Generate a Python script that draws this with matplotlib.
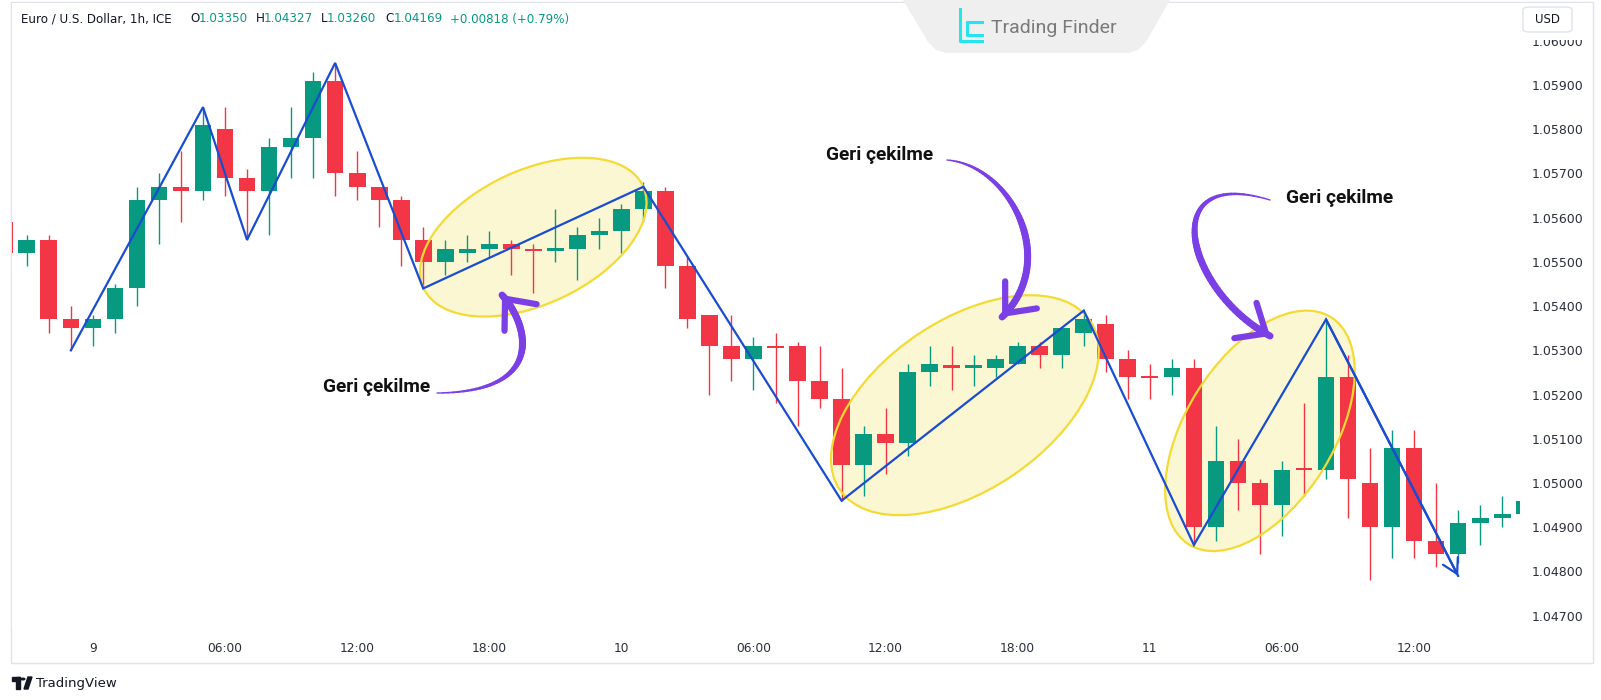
import matplotlib
matplotlib.use("Agg")
import matplotlib.pyplot as plt
import matplotlib.transforms as mtransforms
from matplotlib.patches import Ellipse, Rectangle, FancyBboxPatch, Polygon, Circle
from matplotlib.collections import LineCollection
import numpy as np

W, H = 1601, 700

# hourly candles, hour 0 = day 9 00:00
hours = list(range(-4, 66))
opens = [1.0559, 1.0552, 1.0555, 1.0537, 1.0535, 1.0537, 1.0544, 1.0564, 1.0567, 1.0566,
         1.0580, 1.0569, 1.0566, 1.0576, 1.0578, 1.0591, 1.0570, 1.0567, 1.0564, 1.0555,
         1.0550, 1.0552, 1.0553, 1.0554, 1.05530, 1.05525, 1.0553, 1.0556, 1.0557, 1.0562,
         1.0566, 1.0549, 1.0538, 1.0531, 1.0528, 1.0531, 1.0531, 1.0523, 1.0519, 1.0504,
         1.0511, 1.0509, 1.0525, 1.05266, 1.05261, 1.0526, 1.0527, 1.0531, 1.0529, 1.0534,
         1.0536, 1.0528, 1.05243, 1.0524, 1.0526, 1.0490, 1.0505, 1.0500, 1.0495, 1.05033,
         1.0503, 1.0524, 1.0500, 1.0490, 1.0508, 1.0487, 1.0484, 1.0491, 1.0492, 1.0493]
highs = [1.0560, 1.0556, 1.0556, 1.0540, 1.0538, 1.0545, 1.0567, 1.0570, 1.0575, 1.0585,
         1.0585, 1.0571, 1.0578, 1.0585, 1.0593, 1.0595, 1.0575, 1.0567, 1.0565, 1.0558,
         1.0555, 1.0556, 1.0557, 1.0555, 1.0554, 1.0562, 1.0558, 1.0560, 1.0563, 1.0568,
         1.0567, 1.0551, 1.0538, 1.0538, 1.0533, 1.0534, 1.0532, 1.0531, 1.0526, 1.0513,
         1.0517, 1.0527, 1.0531, 1.0531, 1.0529, 1.0529, 1.0532, 1.0532, 1.0535, 1.0539,
         1.0538, 1.0530, 1.0527, 1.0528, 1.0528, 1.0513, 1.0510, 1.0501, 1.0505, 1.0518,
         1.0537, 1.0529, 1.0508, 1.0512, 1.0512, 1.0500, 1.0494, 1.0495, 1.0497, 1.0497]
lows = [1.0550, 1.0549, 1.0534, 1.0530, 1.0531, 1.0534, 1.0540, 1.0554, 1.0559, 1.0564,
        1.0565, 1.0555, 1.0556, 1.0569, 1.0569, 1.0565, 1.0564, 1.0558, 1.0549, 1.0544,
        1.0547, 1.0550, 1.0551, 1.0547, 1.0543, 1.0550, 1.0546, 1.0553, 1.0552, 1.0559,
        1.0544, 1.0535, 1.0520, 1.0523, 1.0521, 1.0518, 1.0513, 1.0517, 1.0496, 1.0497,
        1.0502, 1.0506, 1.0522, 1.0521, 1.0522, 1.0524, 1.0527, 1.0526, 1.0526, 1.0531,
        1.0525, 1.0519, 1.0519, 1.0520, 1.0486, 1.0487, 1.0494, 1.0484, 1.0488, 1.0497,
        1.0501, 1.0492, 1.0478, 1.0483, 1.0483, 1.0481, 1.0482, 1.0486, 1.0490, 1.0492]
closes = [1.0552, 1.0555, 1.0537, 1.0535, 1.0537, 1.0544, 1.0564, 1.0567, 1.0566, 1.0581,
          1.0569, 1.0566, 1.0576, 1.0578, 1.0591, 1.0570, 1.0567, 1.0564, 1.0555, 1.0550,
          1.0553, 1.0553, 1.0554, 1.0553, 1.05525, 1.05532, 1.0556, 1.0557, 1.0562, 1.0566,
          1.0549, 1.0537, 1.0531, 1.0528, 1.0531, 1.05305, 1.0523, 1.0519, 1.0504, 1.0511,
          1.0509, 1.0525, 1.0527, 1.05261, 1.05268, 1.0528, 1.0531, 1.0529, 1.0535, 1.0537,
          1.0528, 1.0524, 1.05238, 1.0526, 1.0490, 1.0505, 1.0500, 1.0495, 1.0503, 1.05030,
          1.0524, 1.0501, 1.0490, 1.0508, 1.0487, 1.0484, 1.0491, 1.0492, 1.0493, 1.0496]

# zigzag swing points (hour, price)
zz_hours = [-1, 5, 7, 11, 15, 25, 34, 45, 50, 56, 62]
zz_prices = [1.0530, 1.0585, 1.0555, 1.0595, 1.0544, 1.0567, 1.0496, 1.0539, 1.0486, 1.0537, 1.0479]

tick_hours = [0, 6, 12, 18, 24, 30, 36, 42, 48, 54, 60]
tick_labels = ["9", "06:00", "12:00", "18:00", "10", "06:00", "12:00", "18:00", "11", "06:00", "12:00"]
price_ticks = [1.047, 1.048, 1.049, 1.050, 1.051, 1.052, 1.053, 1.054, 1.055, 1.056,
               1.057, 1.058, 1.059, 1.060]

# pullback zones: center hour, center price, semi axes (px), angle
zone_hours = [20.0, 39.6, 53.0]
zone_prices = [1.05556, 1.05176, 1.05118]
zone_axes = [(121, 67), (151, 85), (134, 74)]
zone_angles = [25, 34, 58]

label_text = "Geri çekilme"
label_hours = [12.9, 35.74, 56.63]
label_prices = [1.052171, 1.057417, 1.056445]
arrow_paths = [
    [(15.63, 1.052035), (20.76, 1.052058), (19.71, 1.053641), (18.58, 1.054251)],
    [(38.79, 1.057304), (41.65, 1.057191), (43.92, 1.055043), (41.29, 1.053754)],
    [(53.46, 1.056400), (48.23, 1.057191), (49.60, 1.054364), (53.46, 1.053324)],
]

GREEN = "#089981"
RED = "#f23645"
BLUE = "#1a4cd2"
PURPLE = "#7b3fe6"
TXT = "#131722"
UI_FONT = "DejaVu Sans"


def fx(x):
    return x / W


def fy(y):
    return 1 - y / H


fig = plt.figure(figsize=(W / 100, H / 100), dpi=100)
fig.patch.set_facecolor("white")
ax = fig.add_axes([fx(12), fy(627), (1520 - 12) / W, (627 - 3) / H])
ax.set_xlim(-3.674, 64.81)
ax.set_ylim(1.046744, 1.060855)
ax.set_facecolor("white")
for s in ax.spines.values():
    s.set_visible(False)

# candles
o = np.array(opens)
c = np.array(closes)
hh = np.array(hours)
up = c >= o
cols = np.where(up, GREEN, RED)
ax.vlines(hh, lows, highs, colors=cols, lw=1.0, zorder=2)
bottoms = np.minimum(o, c)
heights = np.maximum(np.abs(c - o), 0.00005)
ax.bar(hh, heights, bottom=bottoms, width=0.76, color=cols, zorder=2.5, linewidth=0)

# zigzag
ax.plot(zz_hours, zz_prices, color=BLUE, lw=1.6, zorder=4, solid_joinstyle="miter")
ax.annotate("", xy=(zz_hours[-1], zz_prices[-1]), xytext=(zz_hours[-2], zz_prices[-2]),
            arrowprops=dict(arrowstyle="->,head_length=0.7,head_width=0.4", color=BLUE,
                            lw=1.6, shrinkA=0, shrinkB=0, mutation_scale=15), zorder=4)

# pullback ellipses (sized in pixels)
for zh, zp, (a, b), ang in zip(zone_hours, zone_prices, zone_axes, zone_angles):
    cx, cy = ax.transData.transform((zh, zp))
    ax.add_patch(Ellipse((cx, cy), 2 * a, 2 * b, angle=ang, transform=mtransforms.IdentityTransform(),
                         facecolor="#fcf7d3", edgecolor="none", zorder=1))
    ax.add_patch(Ellipse((cx, cy), 2 * a, 2 * b, angle=ang, transform=mtransforms.IdentityTransform(),
                         facecolor="none", edgecolor="#f4da35", lw=1.6, zorder=3))

# curved purple arrows with labels
t = np.linspace(0, 1, 60)
for (lh, lp), pts in zip(zip(label_hours, label_prices), arrow_paths):
    ax.text(lh, lp, label_text, ha="center", va="center", fontsize=13.8, fontweight="bold",
            family="Roboto", color="#111111", zorder=6)
    p = np.array(pts)
    bez = ((1 - t) ** 3)[:, None] * p[0] + (3 * (1 - t) ** 2 * t)[:, None] * p[1] \
        + (3 * (1 - t) * t ** 2)[:, None] * p[2] + (t ** 3)[:, None] * p[3]
    segs = np.stack([bez[:-1], bez[1:]], axis=1)
    widths = 1.0 + 4.0 * np.minimum(1, t[:-1] * 1.8)
    ax.add_collection(LineCollection(segs, linewidths=widths, colors=PURPLE, capstyle="round", zorder=5))
    ax.annotate("", xy=tuple(bez[-1]), xytext=tuple(bez[-5]),
                arrowprops=dict(arrowstyle="->,head_length=0.7,head_width=0.6", color=PURPLE,
                                lw=4.5, shrinkA=0, shrinkB=0, mutation_scale=25,
                                capstyle="round", joinstyle="round"), zorder=5)

# axes ticks
ax.yaxis.tick_right()
ax.set_yticks(price_ticks, [f"{v:.5f}" for v in price_ticks])
ax.set_xticks(tick_hours, tick_labels)
ax.tick_params(axis="y", length=0, pad=8.6, labelsize=9, labelcolor="#2a2e39")
ax.tick_params(axis="x", length=0, pad=11, labelsize=8.8, labelcolor="#2a2e39")
for lab in ax.get_yticklabels() + ax.get_xticklabels():
    lab.set_family(UI_FONT)

# panel border
fig.add_artist(Rectangle((fx(11), fy(663)), (1593 - 11) / W, (663 - 2) / H, transform=fig.transFigure,
                         facecolor="none", edgecolor="#e0e3eb", lw=1.0, zorder=0))

# USD button (covers top of the 1.06000 label)
fig.add_artist(Rectangle((fx(1521), fy(40)), 70 / W, 37 / H, transform=fig.transFigure,
                         facecolor="white", edgecolor="none", zorder=9))
fig.add_artist(FancyBboxPatch((fx(1523), fy(32)), 49 / W, 25 / H, boxstyle="round,pad=0,rounding_size=0.004",
                              transform=fig.transFigure, facecolor="white", edgecolor="#e0e3eb", lw=1, zorder=10))
fig.text(fx(1547.5), fy(19.5), "USD", ha="center", va="center", fontsize=8.5, color=TXT,
         family=UI_FONT, zorder=11)

# header
header = [("Euro / U.S. Dollar, 1h, ICE", 21, TXT), ("O", 190, TXT), ("1.03350", 199, GREEN),
          ("H", 256, TXT), ("1.04327", 264, GREEN), ("L", 321, TXT), ("1.03260", 327, GREEN),
          ("C", 385, TXT), ("1.04169", 394, GREEN), ("+0.00818 (+0.79%)", 450, GREEN)]
for s, x, col in header:
    fig.text(fx(x), fy(19), s, ha="left", va="center", fontsize=8.6, color=col, family=UI_FONT)

# Trading Finder tab
tab = [(903, 0), (928, 42), (936, 50), (946, 53), (1128, 53), (1138, 50), (1146, 42), (1170, 0)]
fig.add_artist(Polygon([(fx(x), fy(y)) for x, y in tab], closed=True, transform=fig.transFigure,
                       facecolor="#efefef", edgecolor="none", zorder=8))
logo = [[(960, 9), (960, 41), (982, 41)], [(982, 22), (967, 22), (967, 35), (982, 35)]]
for line in logo:
    xs = [fx(x) for x, y in line]
    ys = [fy(y) for x, y in line]
    fig.add_artist(plt.Line2D(xs, ys, color="#26e3f0", lw=2.2, transform=fig.transFigure, zorder=9))
fig.text(fx(991), fy(28), "Trading Finder", ha="left", va="center", fontsize=14, color="#7a7a7a",
         family="Roboto", zorder=9)

# TradingView footer
fig.add_artist(Rectangle((fx(12), fy(681)), 8 / W, 4 / H, transform=fig.transFigure, color="#131722"))
fig.add_artist(Rectangle((fx(16), fy(689)), 4 / W, 12 / H, transform=fig.transFigure, color="#131722"))
fig.add_artist(Polygon([(fx(24), fy(689)), (fx(28), fy(677)), (fx(32), fy(677)), (fx(28), fy(689))],
                       closed=True, transform=fig.transFigure, color="#131722"))
fig.add_artist(Circle((fx(23), fy(679)), 1.8 / W, transform=fig.transFigure, color="#131722"))
fig.text(fx(36), fy(683), "TradingView", ha="left", va="center", fontsize=9.5, color=TXT, family=UI_FONT)

fig.savefig("out.png", dpi=100)
